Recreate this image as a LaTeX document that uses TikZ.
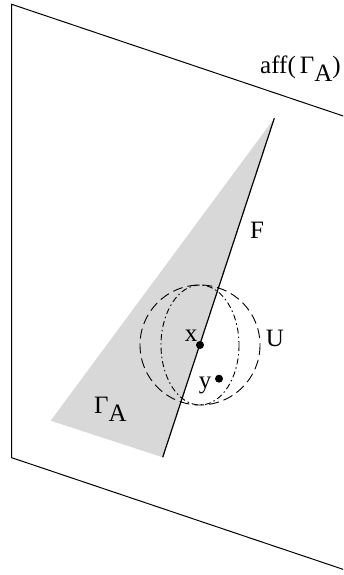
\documentclass[tikz,border=0pt]{standalone}
\usepackage{fontspec}
\setmainfont{Liberation Serif}
\definecolor{lightshade}{RGB}{216,216,216}
\begin{document}
\begin{tikzpicture}[x=1pt,y=-1pt,
  planeline/.style={draw=black, line width=1pt, line join=miter},
  faceline/.style={draw=black, line width=1.2pt},
  ballline/.style={draw=black, line width=0.9pt, dash pattern=on 10pt off 5pt},
  ellline/.style={draw=black, line width=0.9pt, dash pattern=on 6pt off 3pt on 1.5pt off 3pt},
  lbl/.style={inner sep=0pt, font=\fontsize{25}{29}\selectfont},
  pt/.style={circle, fill=black, inner sep=0pt, minimum size=8pt}]
\useasboundingbox (0,0) rectangle (343,575);
\clip (0,0) rectangle (343,575);
% plane aff(Gamma_A)
\coordinate (TL) at (11.7,4.3);
\coordinate (BL) at (11.7,457.7);
\coordinate (TR) at (370,125.0);
\coordinate (BR) at (370,578.4);
\draw[planeline] (TR) -- (TL) -- (BL) -- (BR);
% triangle Gamma_A
\coordinate (A) at (274.3,118.3);
\coordinate (B) at (50.7,420.7);
\coordinate (C) at (162.7,457.3);
\fill[lightshade] (A) -- (B) -- (C) -- cycle;
\draw[faceline] (A) -- (C);
% ball U
\coordinate (ctr) at (200,345);
\draw[ballline] (ctr) circle[radius=60];
\draw[ellline] (ctr) ellipse[x radius=39, y radius=60];
% points
\node[pt] (px) at (200,345) {};
\node[pt] (py) at (219,378.7) {};
% labels
\node[lbl] (lx) at (191,335.3) {x};
\node[lbl] (ly) at (205,385.5) {y};
\node[lbl] (lU) at (275,338.5) {U};
\node[lbl] (lF) at (257,230) {F};
\node[lbl, anchor=base west] (lG) at (94,413) {Γ\raisebox{-8.5pt}{A}};
\node[lbl, anchor=base west] (laff) at (260,73.3) {aff(\,Γ\raisebox{-8.4pt}{A})};
\end{tikzpicture}
\end{document}
